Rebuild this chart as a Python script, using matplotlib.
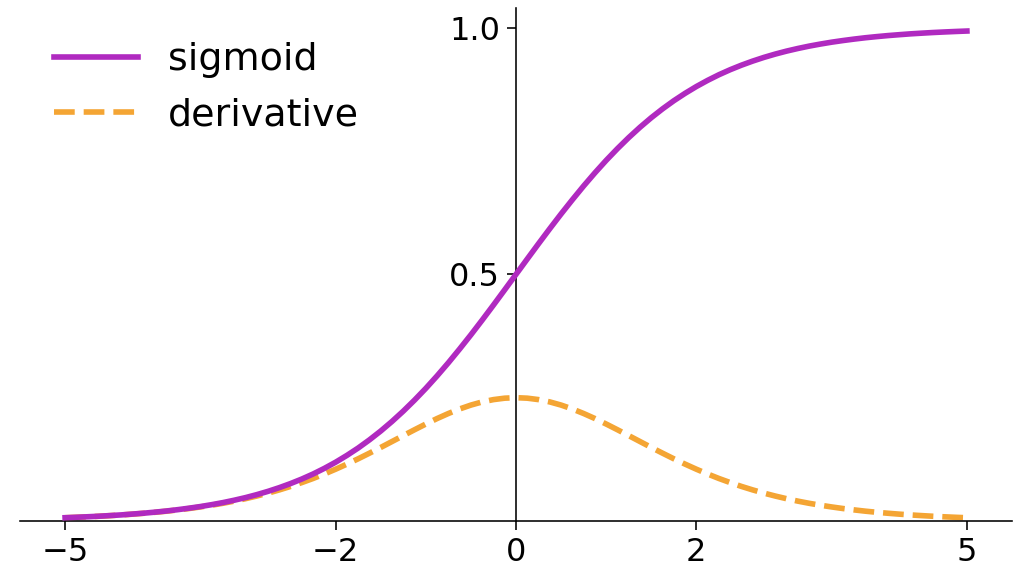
import matplotlib.pyplot as plt

# values, x step 0.125
x = [-5.0, -4.875, -4.75, -4.625, -4.5, -4.375, -4.25, -4.125, -4.0, -3.875,
     -3.75, -3.625, -3.5, -3.375, -3.25, -3.125, -3.0, -2.875, -2.75, -2.625,
     -2.5, -2.375, -2.25, -2.125, -2.0, -1.875, -1.75, -1.625, -1.5, -1.375,
     -1.25, -1.125, -1.0, -0.875, -0.75, -0.625, -0.5, -0.375, -0.25, -0.125,
     0.0,
     0.125, 0.25, 0.375, 0.5, 0.625, 0.75, 0.875, 1.0, 1.125, 1.25,
     1.375, 1.5, 1.625, 1.75, 1.875, 2.0, 2.125, 2.25, 2.375, 2.5,
     2.625, 2.75, 2.875, 3.0, 3.125, 3.25, 3.375, 3.5, 3.625, 3.75,
     3.875, 4.0, 4.125, 4.25, 4.375, 4.5, 4.625, 4.75, 4.875, 5.0]
sigmoid = [0.0067, 0.0076, 0.0086, 0.0097, 0.0110, 0.0124, 0.0141, 0.0159, 0.0180, 0.0203,
           0.0230, 0.0260, 0.0293, 0.0331, 0.0373, 0.0421, 0.0474, 0.0534, 0.0601, 0.0676,
           0.0759, 0.0851, 0.0953, 0.1067, 0.1192, 0.1330, 0.1480, 0.1645, 0.1824, 0.2018,
           0.2227, 0.2451, 0.2689, 0.2942, 0.3208, 0.3487, 0.3775, 0.4073, 0.4378, 0.4688,
           0.5000,
           0.5312, 0.5622, 0.5927, 0.6225, 0.6513, 0.6792, 0.7058, 0.7311, 0.7549, 0.7773,
           0.7982, 0.8176, 0.8355, 0.8520, 0.8670, 0.8808, 0.8933, 0.9047, 0.9149, 0.9241,
           0.9324, 0.9399, 0.9466, 0.9526, 0.9579, 0.9627, 0.9669, 0.9707, 0.9740, 0.9770,
           0.9797, 0.9820, 0.9841, 0.9859, 0.9876, 0.9890, 0.9903, 0.9914, 0.9924, 0.9933]
derivative = [0.0066, 0.0075, 0.0085, 0.0096, 0.0109, 0.0123, 0.0139, 0.0157, 0.0177, 0.0199,
              0.0225, 0.0253, 0.0285, 0.0320, 0.0359, 0.0403, 0.0452, 0.0506, 0.0565, 0.0630,
              0.0701, 0.0779, 0.0862, 0.0953, 0.1050, 0.1153, 0.1261, 0.1375, 0.1491, 0.1611,
              0.1731, 0.1850, 0.1966, 0.2077, 0.2179, 0.2271, 0.2350, 0.2414, 0.2461, 0.2490,
              0.2500,
              0.2490, 0.2461, 0.2414, 0.2350, 0.2271, 0.2179, 0.2077, 0.1966, 0.1850, 0.1731,
              0.1611, 0.1491, 0.1375, 0.1261, 0.1153, 0.1050, 0.0953, 0.0862, 0.0779, 0.0701,
              0.0630, 0.0565, 0.0506, 0.0452, 0.0403, 0.0359, 0.0320, 0.0285, 0.0253, 0.0225,
              0.0199, 0.0177, 0.0157, 0.0139, 0.0123, 0.0109, 0.0096, 0.0085, 0.0075, 0.0066]
xticks = [-5, -2, 0, 2, 5]
yticks = [0.5, 1.0]

fig = plt.figure(figsize=(1025/144, 570/144), dpi=144)
ax = fig.add_axes([20/1025, 49/570, 992/1025, 513/570])

# sigmoid drawn on top of the derivative, as in the original
ax.plot(x, sigmoid, color='#B02AC0', lw=2.8, label='sigmoid', zorder=3)
ax.plot(x, derivative, color='#F4A534', lw=2.8, ls='--', label='derivative', zorder=2)

ax.spines['top'].set_visible(False)
ax.spines['right'].set_visible(False)
ax.spines['left'].set_position(('data', 0))
ax.set_xlim(-5.5, 5.5)
ax.set_ylim(0, 1.04)
ax.set_xticks(xticks)
ax.set_yticks(yticks)
ax.tick_params(labelsize=16, length=4.5)

ax.legend(loc='upper left', fontsize=19, frameon=False, handlelength=2.2)

fig.savefig('out.png', dpi=144)
